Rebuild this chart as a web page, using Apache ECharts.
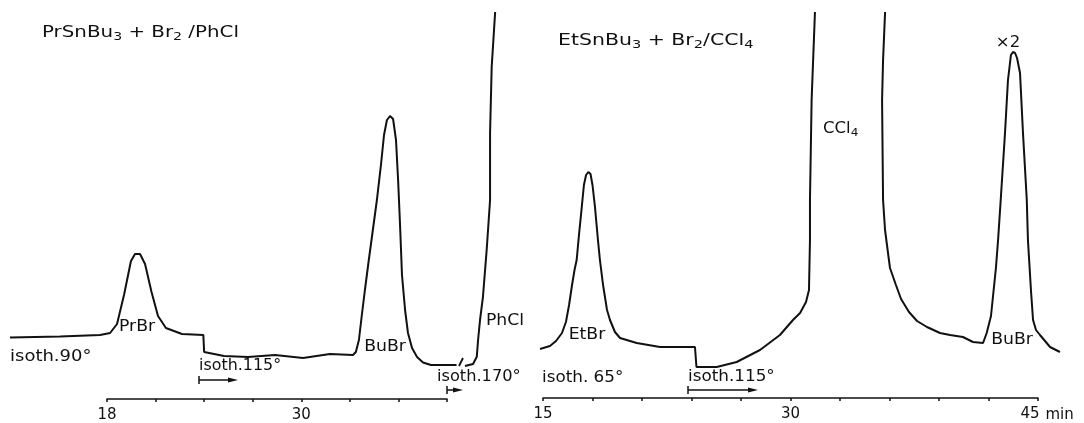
<!DOCTYPE html>
<html><head><meta charset="utf-8">
<script src="https://cdn.jsdelivr.net/npm/echarts@6/dist/echarts.min.js"></script>
<style>html,body{margin:0;padding:0;background:#fff}#c{width:1084px;height:423px}</style>
</head><body><div id="c"></div>
<script>
// ---- DATA ----
// Left chromatogram: PrSnBu3 + Br2 / PhCl   (retention time, min ; detector signal, arb. units)
const leftTime = [12.01, 15.10, 17.57, 18.19, 18.62, 19.05, 19.48, 19.73, 20.04, 20.35, 20.75, 21.15, 21.64, 22.63, 23.95, 24.00,
  25.23, 26.71, 28.38, 30.11, 31.77, 33.19, 33.37, 33.56, 33.74, 33.93, 34.17, 34.42, 34.67, 34.92, 35.11, 35.29, 35.48, 35.67, 35.85,
  35.98, 36.10, 36.22, 36.41, 36.59, 36.84, 37.15, 37.52, 38.01, 38.75, 39.59, 39.85, 40.11, 40.61, 40.84, 40.92, 41.04, 41.22,
  41.45, 41.66, 41.66, 41.76, 41.97, 42.03];
const leftSignal = [65.5, 66.5, 68, 70, 79, 108, 142, 149, 149, 139, 111, 87, 75, 69, 68, 51,
  47, 46, 48, 45, 49, 48, 51, 63, 88, 113, 143, 173, 203, 238, 268, 283, 287, 284, 263,
  223, 178, 128, 93, 70, 55, 46, 40.5, 38, 38, 38, null, 37, 39, 46.3, 63, 83, 106,
  153, 203, 270, 336, 390, 403];
// Right chromatogram: EtSnBu3 + Br2 / CCl4
const rightTime = [14.82, 15.42, 15.79, 16.15, 16.39, 16.58, 16.76, 16.91, 17.04, 17.18, 17.35, 17.48, 17.61, 17.75, 17.88, 18.00,
  18.15, 18.33, 18.45, 18.64, 18.88, 19.06, 19.36, 19.67, 20.68, 22.09, 24.21, 24.30, 25.53, 26.74, 28.15, 29.36, 30.15, 30.58,
  30.94, 31.12, 31.18, 31.18, 31.28, 31.48, 31.50, 35.75, 35.73, 35.61, 35.55, 35.58, 35.61, 35.73, 35.91, 36.03, 36.39, 36.70,
  37.18, 37.67, 38.27, 39.06, 39.67, 40.45, 41.06, 41.67, 41.89, 42.09, 42.15, 42.45, 42.58, 42.74, 43.00, 43.18, 43.36, 43.48,
  43.61, 43.73, 43.91, 44.09, 44.32, 44.39, 44.58, 44.70, 44.88, 45.12, 45.73, 46.33];
const rightSignal = [54, 57, 62, 70, 81, 98, 118, 133, 143, 168, 196, 218, 228, 231, 229, 218,
  196, 163, 143, 118, 93, 83, 71, 65, 60, 56, 56, 36, 36, 41, 53, 68, 83, 90,
  101, 113, 163, 203, 303, 390, 403, 403, 390, 343, 303, 253, 203, 173, 150, 135, 118, 104,
  91, 82, 76, 70, 68, 66, 61, 60, 70, 83, 87, 135, 163, 203, 270, 323, 348, 351,
  350, 345, 330, 270, 203, 163, 111, 83, 73, 68, 56, 51];
const leftTickLabels = [18, 30];
const rightTickLabels = [15, 30, 45];
const leftAxisRange = [18, 39];
const rightAxisRange = [15, 45];
const tickStep = 3;

// ---- LAYOUT ----
const AX_Y = 403, TOP = 13, YMAX = 390;
const LP = {x0: 107, x1: 447, dmin: 11.8, dmax: 42.6};
const RP = {x0: 543, x1: 1038, dmin: 14.6, dmax: 46.6};
function dataGrid(p, r) {
  const k = (p.x1 - p.x0) / (r[1] - r[0]);
  return {left: p.x0 - (r[0] - p.dmin) * k, width: (p.dmax - p.dmin) * k, top: TOP, height: AX_Y - TOP};
}
const FONT = 'DejaVu Sans';
const FS = 15;
const ink = '#111';

const chart = echarts.init(document.getElementById('c'), null, {renderer: 'canvas'});
const zip = (a, b) => a.map((t, i) => [t, b[i]]);

function visAxis(gi, r, labels, extra) {
  return Object.assign({
    type: 'value', gridIndex: gi, min: r[0], max: r[1], interval: tickStep,
    axisLine: {show: true, lineStyle: {color: ink, width: 1.5}},
    axisTick: {show: true, length: 3, lineStyle: {color: ink, width: 1.5}},
    splitLine: {show: false},
    axisLabel: {show: true, margin: 9, color: ink, fontFamily: FONT, fontSize: FS,
      showMinLabel: true, showMaxLabel: true,
      formatter: v => labels.includes(v) ? (v === r[1] && extra ? '{l|' + v + '}' : String(v)) : '',
      rich: {l: {fontFamily: FONT, fontSize: FS, color: ink, padding: [0, 16, 0, 0]}}}
  }, extra || {});
}
const hidX = (gi, p) => ({type: 'value', gridIndex: gi, min: p.dmin, max: p.dmax, show: false});
const hidY = gi => ({type: 'value', gridIndex: gi, min: 0, max: YMAX, show: false});

function txt(text, x, y, align, sx, fs) {
  const f = fs || FS;
  return {type: 'text', silent: true, x, y, scaleX: sx || 1.15,
    style: {text, x: 0, y: 0, fill: ink, fontFamily: FONT, fontSize: f,
      align: align || 'left', verticalAlign: 'middle', lineHeight: 20,
      rich: {s: {fontFamily: FONT, fontSize: Math.round(f * 0.72), fill: ink, verticalAlign: 'bottom', lineHeight: 11}}}};
}
function arrow(x0, x1, y) {
  return [
    {type: 'line', silent: true, shape: {x1: x0, y1: y - 4, x2: x0, y2: y + 4}, style: {stroke: ink, lineWidth: 1.5}},
    {type: 'line', silent: true, shape: {x1: x0, y1: y, x2: x1 - 5, y2: y}, style: {stroke: ink, lineWidth: 1.5}},
    {type: 'polygon', silent: true, shape: {points: [[x1, y], [x1 - 10, y - 2.5], [x1 - 10, y + 2.5]]}, style: {fill: ink}}
  ];
}

const option = {
  animation: false,
  backgroundColor: '#fff',
  grid: [dataGrid(LP, leftAxisRange), dataGrid(RP, rightAxisRange),
    {left: LP.x0, width: LP.x1 - LP.x0, top: TOP, height: AX_Y - TOP},
    {left: RP.x0, width: RP.x1 - RP.x0, top: TOP, height: AX_Y - TOP}],
  xAxis: [hidX(0, LP), hidX(1, RP),
    visAxis(2, leftAxisRange, leftTickLabels),
    visAxis(3, rightAxisRange, rightTickLabels, {name: 'min', nameLocation: 'end', nameGap: 7,
      nameTextStyle: {color: ink, fontFamily: FONT, fontSize: FS, verticalAlign: 'top', padding: [10, 0, 0, 0]}})],
  yAxis: [hidY(0), hidY(1), hidY(2), hidY(3)],
  series: [
    {type: 'line', xAxisIndex: 0, yAxisIndex: 0, data: zip(leftTime, leftSignal), showSymbol: false, symbol: 'none',
      connectNulls: false, clip: true, lineStyle: {color: ink, width: 2}},
    {type: 'line', xAxisIndex: 1, yAxisIndex: 1, data: zip(rightTime, rightSignal), showSymbol: false, symbol: 'none',
      clip: true, lineStyle: {color: ink, width: 2}}
  ],
  graphic: [
    txt('PrSnBu{s|3} + Br{s|2} /PhCl', 42, 33, 'left', 1.28, 15.5),
    txt('EtSnBu{s|3} + Br{s|2}/CCl{s|4}', 558, 41, 'left', 1.32, 15.5),
    txt('PrBr', 137, 327, 'center'),
    txt('BuBr', 385, 347, 'center'),
    txt('PhCl', 505, 321, 'center'),
    txt('isoth.90°', 10, 357, 'left', 1.2),
    txt('isoth.115°', 199, 366, 'left', 1.06),
    txt('isoth.170°', 437, 377, 'left', 1.08),
    txt('EtBr', 587, 335, 'center'),
    txt('isoth. 65°', 542, 378, 'left', 1.12),
    txt('isoth.115°', 688, 377, 'left', 1.12),
    txt('CCl{s|4}', 823, 129, 'left', 1.1),
    txt('×2', 1008, 43, 'center', 1.1),
    txt('BuBr', 1012, 340, 'center'),
    {type: 'line', silent: true, shape: {x1: 459, y1: 366, x2: 463, y2: 358}, style: {stroke: ink, lineWidth: 1.8}},
    ...arrow(199, 238, 380),
    ...arrow(447, 463, 390),
    ...arrow(688, 758, 390)
  ]
};
chart.setOption(option);
</script>
</body></html>
